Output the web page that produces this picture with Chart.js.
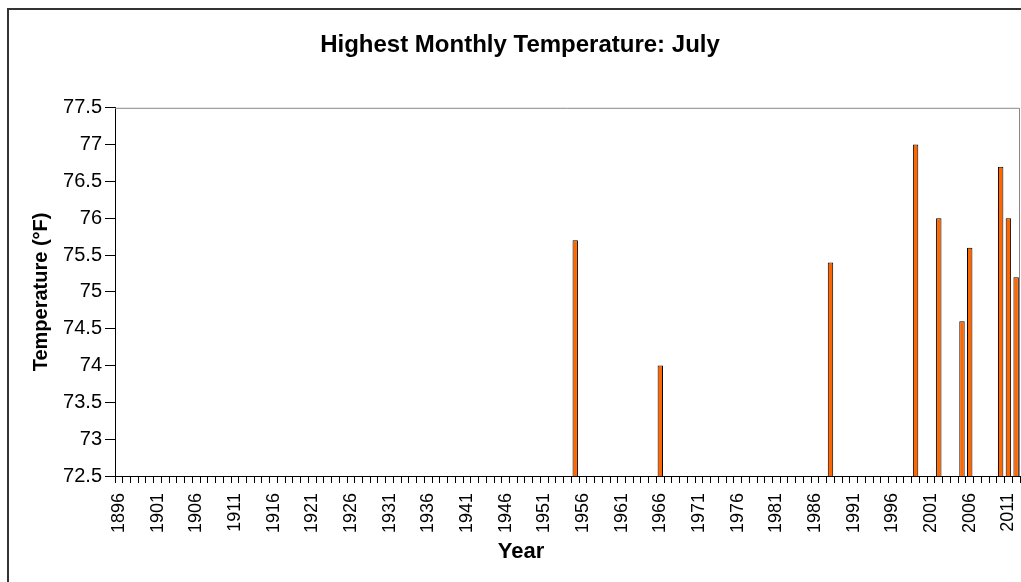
<!DOCTYPE html>
<html>
<head>
<meta charset="utf-8">
<script src="https://cdn.jsdelivr.net/npm/chart.js@4/dist/chart.umd.min.js"></script>
<style>
  html, body { margin: 0; padding: 0; background: #fff; }
  #wrap { position: relative; width: 1021px; height: 582px; }
</style>
</head>
<body>
<div id="wrap"><canvas id="tempChart" width="1021" height="582"></canvas></div>
<script>
// first and last year on the category axis
const firstYear = 1896
const lastYear = 2012

// years that have a bar, and their highest July temperature (°F)
const barYears = [1955, 1966, 1988, 1999, 2002, 2005, 2006, 2010, 2011, 2012]
const barTemps = [75.7, 74.0, 75.4, 77.0, 76.0, 74.6, 75.6, 76.7, 76.0, 75.2]

const yMin = 72.5
const yMax = 77.5
const yStep = 0.5

const years = []
for (let y = firstYear; y <= lastYear; y++) years.push(y)
const values = years.map(y => {
  const i = barYears.indexOf(y)
  return i >= 0 ? barTemps[i] : null
})

const fontFam = "'Liberation Sans', Arial, sans-serif"

const frame = {
  id: 'frame',
  beforeDraw(chart) {
    const ctx = chart.ctx
    ctx.save()
    ctx.strokeStyle = '#333'
    ctx.lineWidth = 2
    ctx.strokeRect(8, 9, 1100, 700)
    ctx.restore()
  },
  beforeDatasetsDraw(chart) {
    const a = chart.chartArea
    const ctx = chart.ctx
    ctx.save()
    ctx.strokeStyle = '#888'
    ctx.lineWidth = 1
    ctx.beginPath()
    ctx.moveTo(a.left, a.top + 0.5)
    ctx.lineTo(a.right - 0.5, a.top + 0.5)
    ctx.lineTo(a.right - 0.5, a.bottom)
    ctx.stroke()
    ctx.restore()
  },
  // Excel centres the x title on the whole chart, not the plot
  afterDraw(chart) {
    const ctx = chart.ctx
    ctx.save()
    ctx.fillStyle = '#000'
    ctx.font = 'bold 22px ' + fontFam
    ctx.textAlign = 'center'
    ctx.textBaseline = 'middle'
    ctx.fillText('Year', 521, 552)
    ctx.restore()
  }
}

new Chart(document.getElementById('tempChart'), {
  type: 'bar',
  data: {
    labels: years.map(String),
    datasets: [{
      label: 'Temperature',
      data: values,
      backgroundColor: '#FF6600',
      borderColor: '#000',
      borderWidth: 1,
      barPercentage: 0.7,
      categoryPercentage: 1.0
    }]
  },
  options: {
    responsive: false,
    animation: false,
    layout: { padding: { left: 20, right: 1, top: 0, bottom: 0 } },
    plugins: {
      legend: { display: false },
      tooltip: { enabled: false },
      title: {
        display: true,
        text: 'Highest Monthly Temperature: July',
        color: '#000',
        font: { family: fontFam, size: 24, weight: 'bold' },
        padding: { top: 31, bottom: 48 }
      }
    },
    scales: {
      x: {
        offset: true,
        grid: { offset: true, drawOnChartArea: false, drawTicks: true, tickLength: 7, color: '#000' },
        border: { color: '#000', width: 1 },
        ticks: {
          autoSkip: false,
          maxRotation: 90,
          minRotation: 90,
          padding: 10,
          color: '#000',
          font: { family: fontFam, size: 18 },
          callback: (v, i) => ((years[i] - firstYear) % 5 === 0 ? String(years[i]) : '')
        },
        title: { display: false, text: 'Year' },
        afterFit: s => { s.height = 106; s.paddingLeft = 0; s.paddingRight = 0 }
      },
      y: {
        min: yMin,
        max: yMax,
        grid: { drawOnChartArea: false, drawTicks: true, tickLength: 10, color: '#000' },
        border: { color: '#000', width: 1 },
        ticks: {
          stepSize: yStep,
          padding: 3,
          color: '#000',
          font: { family: fontFam, size: 20 },
          callback: v => String(v)
        },
        title: {
          display: true,
          text: 'Temperature (°F)',
          color: '#000',
          font: { family: fontFam, size: 20, weight: 'bold' },
          padding: { top: 9, bottom: 0 }
        },
        afterFit: s => { s.width = 95 }
      }
    }
  },
  plugins: [frame]
})
</script>
</body>
</html>
